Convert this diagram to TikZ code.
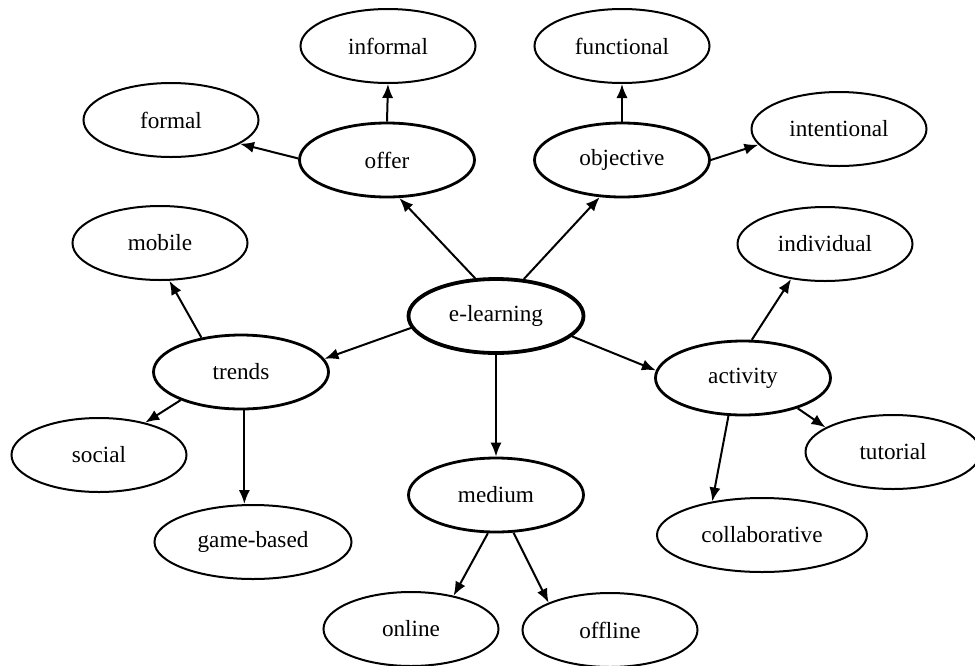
\documentclass[tikz,border=0pt]{standalone}
\usepackage{fontspec}
\setmainfont{Liberation Serif}
\usetikzlibrary{shapes.geometric,arrows.meta}

\begin{document}
\begin{tikzpicture}[x=0.5pt,y=-0.5pt,
  leaf/.style={ellipse,draw,line width=1pt,minimum width=87.5pt,minimum height=37pt,inner sep=0pt,font=\fontsize{11.6}{13}\selectfont},
  hub/.style={leaf,line width=1.4pt},
  root/.style={leaf,line width=1.9pt},
  link/.style={->,>={Latex[length=7pt,width=5.6pt]},line width=1pt}]

  \useasboundingbox (0,0) rectangle (975,665);

  % centre
  \node[root] (elearn) at (496,316) {e-learning};

  % categories
  \node[hub] (offer) at (387,160) {offer};
  \node[hub] (objective) at (622,160) {objective};
  \node[hub] (trends) at (241,372) {trends};
  \node[hub] (activity) at (743,378) {activity};
  \node[hub] (medium) at (496,495) {medium};

  % leaves
  \node[leaf] (informal) at (388,46) {informal};
  \node[leaf] (functional) at (622,46) {functional};
  \node[leaf] (formal) at (171,120) {formal};
  \node[leaf] (intentional) at (839,129) {intentional};
  \node[leaf] (mobile) at (160,243) {mobile};
  \node[leaf] (individual) at (825,244) {individual};
  \node[leaf] (social) at (99,455) {social};
  \node[leaf] (tutorial) at (893,452) {tutorial};
  \node[leaf,minimum width=98.5pt] (gamebased) at (253,542) {game-based};
  \node[leaf,minimum width=105pt] (collab) at (762,535) {collaborative};
  \node[leaf] (online) at (411,629) {online};
  \node[leaf] (offline) at (610,630) {offline};

  % e-learning -> categories
  \draw[link] (elearn.119) -- (offer.-72);
  \draw[link] (elearn.53) -- (objective.-121);
  \draw[link] (elearn.-172) -- (trends.9);
  \draw[link] (elearn.-15) -- (activity.175);
  \draw[link] (elearn.south) -- (medium.north);

  % offer, objective
  \draw[link] (offer.north) -- (informal.south);
  \draw[link] (offer.179) -- (formal.-19);
  \draw[link] (objective.north) -- (functional.south);
  \draw[link] (objective.0) -- (intentional.-169);

  % trends
  \draw[link] (trends.139) -- (mobile.-76);
  \draw[link] (trends.-155) -- (social.35);
  \draw[link] (trends.-85) -- (trends.-85 |- gamebased.north);

  % activity
  \draw[link] (activity.77) -- (individual.-134);
  \draw[link] (activity.-29) -- (tutorial.160);
  \draw[link] (activity.-111) -- (collab.146);

  % medium
  \draw[link] (medium.-102) -- (online.38);
  \draw[link] (medium.-65) -- (offline.156);

\end{tikzpicture}
\end{document}
